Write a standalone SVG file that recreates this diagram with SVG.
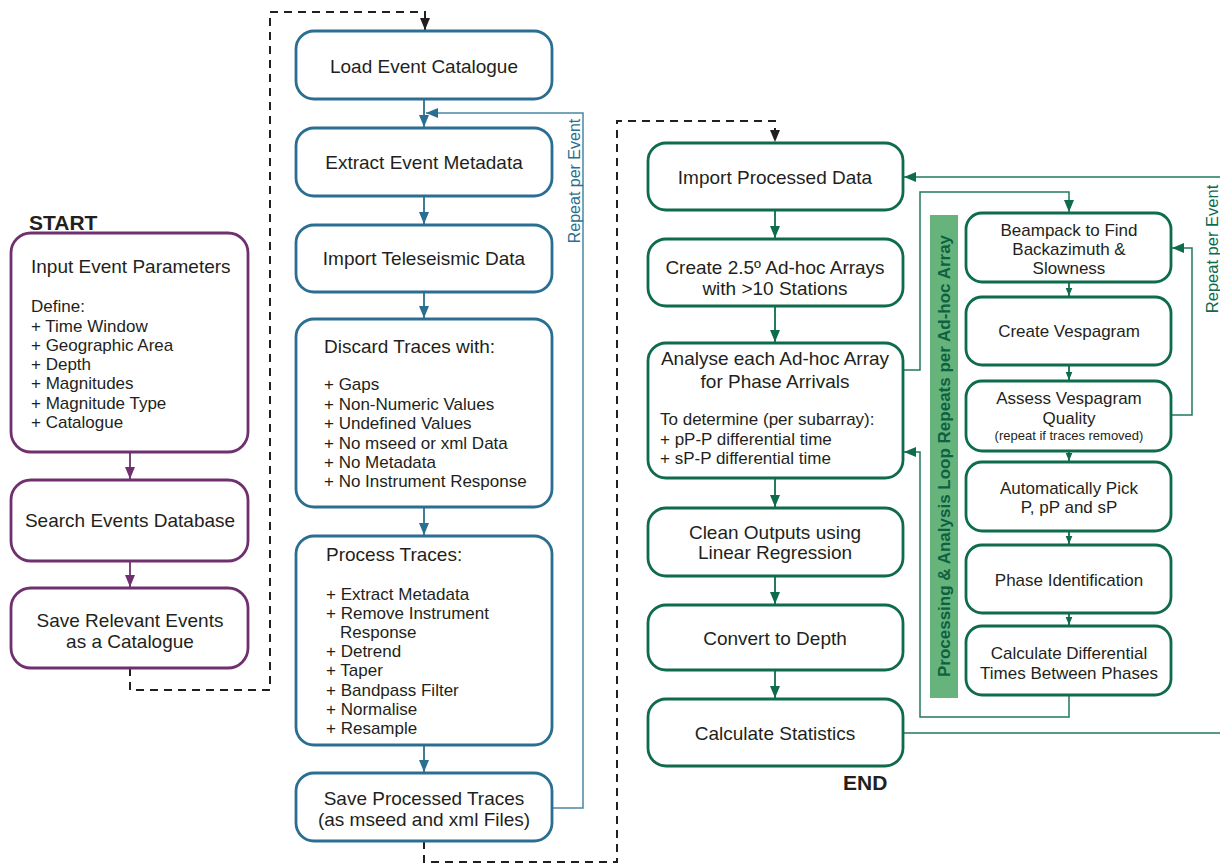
<svg xmlns="http://www.w3.org/2000/svg" width="1220" height="866" viewBox="0 0 1220 866">
<defs>
<style>
text{font-family:"Liberation Sans",Arial,sans-serif;fill:#231f20}
.t{font-size:19px}
.l{font-size:17px}
.s{font-size:13px}
.m{text-anchor:middle}
.bp{fill:#fff;stroke:#70306f;stroke-width:2.8}
.bb{fill:#fff;stroke:#2a6f91;stroke-width:2.8}
.bg{fill:#fff;stroke:#0e6b4b;stroke-width:2.8}
.cp{fill:none;stroke:#70306f;stroke-width:1.8}
.cb{fill:none;stroke:#2a6f91;stroke-width:1.8}
.cb2{fill:none;stroke:#4a86a4;stroke-width:1.5}
.cg{fill:none;stroke:#0e6b4b;stroke-width:1.8}
.cg2{fill:none;stroke:#1f7a58;stroke-width:1.5}
.dk{fill:none;stroke:#231f20;stroke-width:2;stroke-dasharray:8 6}
.hd{font-size:21px;font-weight:bold}
</style>
<marker id="aP" viewBox="0 0 12 12" refX="12" refY="6" markerWidth="12" markerHeight="12" markerUnits="userSpaceOnUse" orient="auto"><path d="M0,1 L12,6 L0,11 z" fill="#70306f"/></marker>
<marker id="aB" viewBox="0 0 12 12" refX="12" refY="6" markerWidth="12" markerHeight="12" markerUnits="userSpaceOnUse" orient="auto"><path d="M0,1 L12,6 L0,11 z" fill="#2a6f91"/></marker>
<marker id="aG" viewBox="0 0 12 12" refX="12" refY="6" markerWidth="12" markerHeight="12" markerUnits="userSpaceOnUse" orient="auto"><path d="M0,1 L12,6 L0,11 z" fill="#0e6b4b"/></marker>
<marker id="aGs" viewBox="0 0 12 12" refX="12" refY="6" markerWidth="8" markerHeight="8" markerUnits="userSpaceOnUse" orient="auto"><path d="M0,1 L12,6 L0,11 z" fill="#0e6b4b"/></marker>
<marker id="aK" viewBox="0 0 12 12" refX="12" refY="6" markerWidth="12" markerHeight="12" markerUnits="userSpaceOnUse" orient="auto"><path d="M0,1 L12,6 L0,11 z" fill="#231f20"/></marker>
</defs>
<rect width="1220" height="866" fill="#fff"/>

<g id="connectors">
<path class="dk" d="M130,668 V690 H270 V12 H425 V30" marker-end="url(#aK)"/>
<path class="dk" d="M424,841 V862 H617 V121 H775 V142" marker-end="url(#aK)"/>
<path class="cp" d="M130,452 V479" marker-end="url(#aP)"/>
<path class="cp" d="M130,561 V587" marker-end="url(#aP)"/>
<path class="cb" d="M424,99 V127" marker-end="url(#aB)"/>
<path class="cb" d="M424,196 V224" marker-end="url(#aB)"/>
<path class="cb" d="M424,292 V318" marker-end="url(#aB)"/>
<path class="cb" d="M424,507 V535" marker-end="url(#aB)"/>
<path class="cb" d="M424,745 V772" marker-end="url(#aB)"/>
<path class="cb2" d="M552,808 H583 V113 H426" marker-end="url(#aB)"/>
<path class="cg" d="M775,210 V238" marker-end="url(#aG)"/>
<path class="cg" d="M775,306 V342" marker-end="url(#aG)"/>
<path class="cg" d="M775,478 V507" marker-end="url(#aG)"/>
<path class="cg" d="M775,576 V604" marker-end="url(#aG)"/>
<path class="cg" d="M775,670 V698" marker-end="url(#aG)"/>
<path class="cg" d="M1069,282 V296" marker-end="url(#aGs)"/>
<path class="cg" d="M1069,365 V380" marker-end="url(#aGs)"/>
<path class="cg" d="M1069,451 V461" marker-end="url(#aGs)"/>
<path class="cg" d="M1069,531 V544" marker-end="url(#aGs)"/>
<path class="cg" d="M1069,613 V625" marker-end="url(#aGs)"/>
<path class="cg2" d="M903,370 H920 V192 H1069 V212" marker-end="url(#aG)"/>
<path class="cg2" d="M1069,695 V717 H920 V452 H904" marker-end="url(#aG)"/>
<path class="cg2" d="M1171,415 H1192 V248 H1172" marker-end="url(#aG)"/>
<path class="cg2" d="M903,733 H1220"/>
<path class="cg2" d="M1220,177 H904" marker-end="url(#aG)"/>
<text class="l" style="fill:#2a6f91;font-size:16px" text-anchor="middle" transform="translate(580,181) rotate(-90)">Repeat per Event</text>
<text class="l" style="fill:#0e6b4b;font-size:16.5px" text-anchor="middle" transform="translate(1218,249) rotate(-90)">Repeat per Event</text>
</g>

<text class="hd" x="29" y="230">START</text>
<text class="hd" x="843" y="790">END</text>

<g id="input-params">
<rect class="bp" x="11" y="233" width="237" height="219" rx="20"/>
<text class="t" x="31" y="272.5">Input Event Parameters</text>
<text class="l" x="31" y="312">Define:</text>
<text class="l" x="31" y="332">+ Time Window</text>
<text class="l" x="31" y="351">+ Geographic Area</text>
<text class="l" x="31" y="370">+ Depth</text>
<text class="l" x="31" y="389">+ Magnitudes</text>
<text class="l" x="31" y="409">+ Magnitude Type</text>
<text class="l" x="31" y="428">+ Catalogue</text>
</g>
<g id="search-db">
<rect class="bp" x="11" y="480" width="237" height="81" rx="20"/>
<text class="t m" x="130" y="527">Search Events Database</text>
</g>
<g id="save-events">
<rect class="bp" x="11" y="588" width="237" height="80" rx="20"/>
<text class="t m" x="130" y="626.5">Save Relevant Events</text>
<text class="t m" x="130" y="647.5">as a Catalogue</text>
</g>

<g id="load-catalogue">
<rect class="bb" x="296" y="31" width="256" height="68" rx="18"/>
<text class="t m" x="424" y="72.5">Load Event Catalogue</text>
</g>
<g id="extract-meta">
<rect class="bb" x="296" y="128" width="256" height="68" rx="18"/>
<text class="t m" x="424" y="168.5">Extract Event Metadata</text>
</g>
<g id="import-tele">
<rect class="bb" x="296" y="225" width="256" height="67" rx="18"/>
<text class="t m" x="424" y="264.5">Import Teleseismic Data</text>
</g>
<g id="discard">
<rect class="bb" x="296" y="319" width="256" height="188" rx="18"/>
<text class="t" x="324" y="352.5">Discard Traces with:</text>
<text class="l" x="324" y="390">+ Gaps</text>
<text class="l" x="324" y="410">+ Non-Numeric Values</text>
<text class="l" x="324" y="429">+ Undefined Values</text>
<text class="l" x="324" y="449">+ No mseed or xml Data</text>
<text class="l" x="324" y="468">+ No Metadata</text>
<text class="l" x="324" y="487">+ No Instrument Response</text>
</g>
<g id="process">
<rect class="bb" x="296" y="536" width="256" height="209" rx="18"/>
<text class="t" x="326" y="560.5">Process Traces:</text>
<text class="l" x="326" y="600">+ Extract Metadata</text>
<text class="l" x="326" y="619">+ Remove Instrument</text>
<text class="l" x="340" y="638">Response</text>
<text class="l" x="326" y="657">+ Detrend</text>
<text class="l" x="326" y="676">+ Taper</text>
<text class="l" x="326" y="696">+ Bandpass Filter</text>
<text class="l" x="326" y="715">+ Normalise</text>
<text class="l" x="326" y="734">+ Resample</text>
</g>
<g id="save-traces">
<rect class="bb" x="296" y="773" width="256" height="68" rx="18"/>
<text class="t m" x="424" y="804.5">Save Processed Traces</text>
<text class="t m" x="424" y="825.5">(as mseed and xml Files)</text>
</g>

<g id="import-processed">
<rect class="bg" x="648" y="143" width="255" height="67" rx="18"/>
<text class="t m" x="775" y="183.5">Import Processed Data</text>
</g>
<g id="create-arrays">
<rect class="bg" x="648" y="239" width="255" height="67" rx="18"/>
<text class="t m" x="775" y="273.5">Create 2.5º Ad-hoc Arrays</text>
<text class="t m" x="775" y="294.5">with &gt;10 Stations</text>
</g>
<g id="analyse">
<rect class="bg" x="648" y="343" width="255" height="135" rx="18"/>
<text class="t m" x="775" y="364.5">Analyse each Ad-hoc Array</text>
<text class="t m" x="775" y="387.5">for Phase Arrivals</text>
<text class="l" x="660" y="425">To determine (per subarray):</text>
<text class="l" x="660" y="445">+ pP-P differential time</text>
<text class="l" x="660" y="464">+ sP-P differential time</text>
</g>
<g id="clean">
<rect class="bg" x="648" y="508" width="255" height="68" rx="18"/>
<text class="t m" x="775" y="538.5">Clean Outputs using</text>
<text class="t m" x="775" y="558.5">Linear Regression</text>
</g>
<g id="convert">
<rect class="bg" x="648" y="605" width="255" height="65" rx="18"/>
<text class="t m" x="775" y="644.5">Convert to Depth</text>
</g>
<g id="stats">
<rect class="bg" x="648" y="699" width="255" height="67" rx="18"/>
<text class="t m" x="775" y="739.5">Calculate Statistics</text>
</g>

<g id="loop-label">
<rect x="930" y="215" width="28" height="483" fill="#66b37c"/>
<text style="font-size:17px;font-weight:bold;fill:#0d6241" text-anchor="middle" transform="translate(950,456) rotate(-90)">Processing &amp; Analysis Loop Repeats per Ad-hoc Array</text>
</g>

<g id="beampack">
<rect class="bg" x="966" y="213" width="205" height="69" rx="16"/>
<text class="l m" x="1069" y="236">Beampack to Find</text>
<text class="l m" x="1069" y="255">Backazimuth &amp;</text>
<text class="l m" x="1069" y="274">Slowness</text>
</g>
<g id="vespagram">
<rect class="bg" x="966" y="297" width="205" height="68" rx="16"/>
<text class="l m" x="1069" y="337">Create Vespagram</text>
</g>
<g id="assess">
<rect class="bg" x="966" y="381" width="205" height="70" rx="16"/>
<text class="l m" x="1069" y="404">Assess Vespagram</text>
<text class="l m" x="1069" y="424">Quality</text>
<text class="s m" x="1069" y="440">(repeat if traces removed)</text>
</g>
<g id="pick">
<rect class="bg" x="966" y="462" width="205" height="69" rx="16"/>
<text class="l m" x="1069" y="494">Automatically Pick</text>
<text class="l m" x="1069" y="513">P, pP and sP</text>
</g>
<g id="phase-id">
<rect class="bg" x="966" y="545" width="205" height="68" rx="16"/>
<text class="l m" x="1069" y="586">Phase Identification</text>
</g>
<g id="diff-times">
<rect class="bg" x="966" y="626" width="205" height="69" rx="16"/>
<text class="l m" x="1069" y="659">Calculate Differential</text>
<text class="l m" x="1069" y="679">Times Between Phases</text>
</g>
</svg>
